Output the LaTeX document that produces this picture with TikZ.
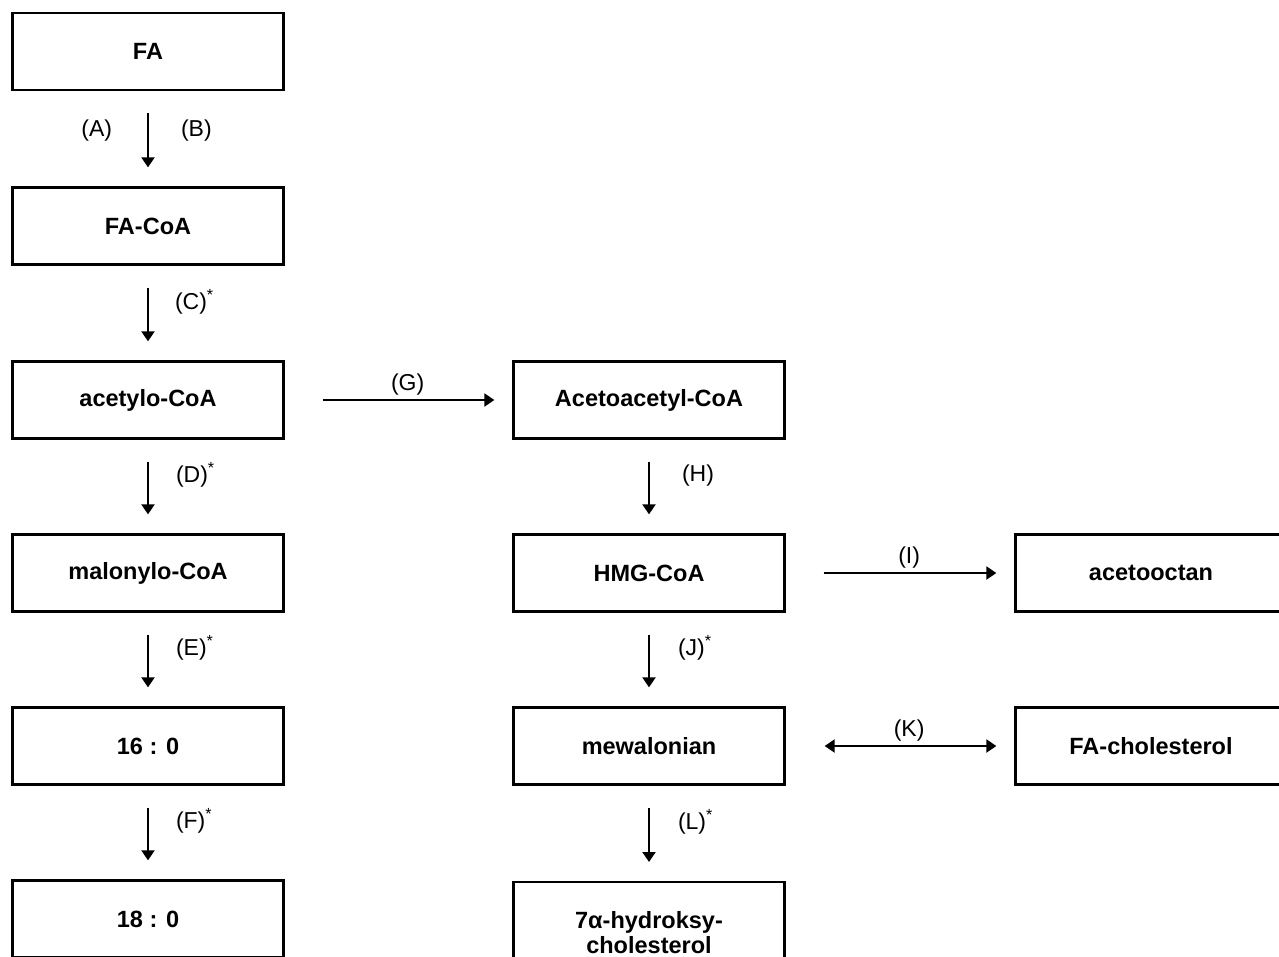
\documentclass[tikz,border=0pt]{standalone}
\usepackage{fontspec}
\setmainfont{Liberation Sans}
\usetikzlibrary{arrows.meta}

\begin{document}
\begin{tikzpicture}[x=1pt, y=-1pt,
		box/.style={draw, line width=2.3pt, minimum width=271pt, minimum height=77pt, inner sep=0pt, font=\fontsize{23.5}{25}\selectfont\bfseries},
		vflow/.style={line width=2pt, -{Triangle[length=10pt, width=13pt]}, shorten <=22pt, shorten >=19pt},
		hflow/.style={line width=2pt, -{Triangle[length=10pt, width=13pt]}, shorten <=38pt, shorten >=18pt},
		lbl/.style={font=\fontsize{23}{26}\selectfont, inner sep=1pt}]
		%%%%% START %%%%%
		
		\useasboundingbox (0, 0) rectangle (1279, 956);
		
		\node[box] (fa) at (148, 51.5) {FA};
		\node[box] (facoa) at (148, 226) {FA-CoA};
		\node[box] (acetylo) at (148, 400) {acetylo-CoA};
		\node[box] (malonylo) at (148, 573) {malonylo-CoA};
		\node[box] (p16) at (148, 746) {16 : 0};
		\node[box] (p18) at (148, 919) {18 : 0};
		
		\node[box] (acetoacetyl) at (649, 400) {Acetoacetyl-CoA};
		\node[box] (hmg) at (649, 573) {HMG-CoA};
		\node[box] (mewal) at (649, 746) {mewalonian};
		\node[box, minimum height=100pt, anchor=north, align=center] (hydroksy) at (649, 881) {7α-hydroksy-\\cholesterol};
		
		\node[box] (acetooctan) at (1151, 573) {acetooctan};
		\node[box] (facholesterol) at (1151, 746) {FA-cholesterol};
		
		\draw[vflow] (fa) -- (facoa) node[lbl, pos=0.41, left=34pt] {(A)} node[lbl, pos=0.41, right=31pt] {(B)};
		\draw[vflow] (facoa) -- (acetylo) node[lbl, pos=0.38, right=25pt] {(C)\textsuperscript{*}};
		\draw[vflow] (acetylo) -- (malonylo) node[lbl, pos=0.38, right=26pt] {(D)\textsuperscript{*}};
		\draw[vflow] (malonylo) -- (p16) node[lbl, pos=0.38, right=26pt] {(E)\textsuperscript{*}};
		\draw[vflow] (p16) -- (p18) node[lbl, pos=0.38, right=26pt] {(F)\textsuperscript{*}};
		
		\draw[hflow] (acetylo) -- (acetoacetyl) node[lbl, pos=0.54, above=3pt] {(G)};
		\draw[vflow] (acetoacetyl) -- (hmg) node[lbl, pos=0.38, right=31pt] {(H)};
		\draw[hflow] (hmg) -- (acetooctan) node[lbl, pos=0.54, above=3pt] {(I)};
		\draw[vflow] (hmg) -- (mewal) node[lbl, pos=0.38, right=27pt] {(J)\textsuperscript{*}};
		\draw[hflow, {Triangle[length=10pt, width=13pt]}-{Triangle[length=10pt, width=13pt]}, shorten <=39pt] (mewal) -- (facholesterol) node[lbl, pos=0.54, above=3pt] {(K)};
		\draw[vflow] (mewal) -- (hydroksy) node[lbl, pos=0.38, right=27pt] {(L)\textsuperscript{*}};
		
		%%%%% END %%%%%
	\end{tikzpicture}
\end{document}
